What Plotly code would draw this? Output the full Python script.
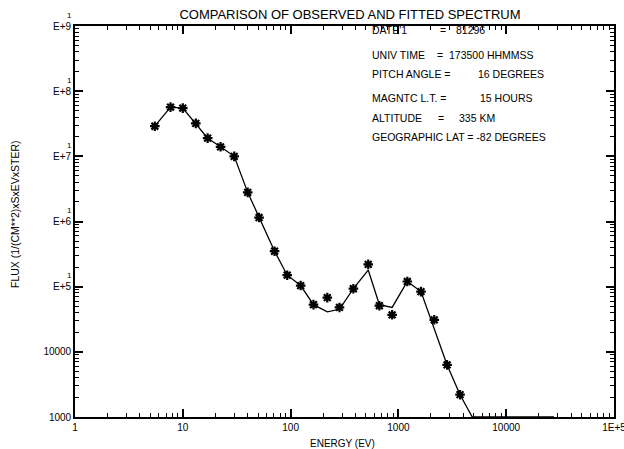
import plotly.graph_objects as go
import numpy as np

# Observed spectrum (asterisks)
energy_ev = [5.5, 7.7, 10, 13.2, 17, 22.4, 30, 40, 51, 71, 93, 124, 163, 219, 284,
             382, 525, 666, 875, 1210, 1620, 2150, 2830, 3730, 4840, 6670, 8800,
             11900, 16000, 21100, 27800]
flux_observed = [2.9e7, 5.7e7, 5.5e7, 3.2e7, 1.9e7, 1.4e7, 1.0e7, 2.8e6, 1.15e6, 3.5e5,
                 1.5e5, 1.04e5, 5.3e4, 6.8e4, 4.8e4, 9.3e4, 2.2e5, 5.1e4, 3.7e4, 1.2e5,
                 8.4e4, 3.1e4, 6.3e3, 2.2e3, 1000, 1000, 1000, 1000, 1000, 1000, 1000]
# Fitted spectrum (solid line)
flux_fitted = [2.9e7, 5.7e7, 5.5e7, 3.2e7, 1.9e7, 1.4e7, 1.0e7, 2.8e6, 1.15e6, 3.5e5,
               1.5e5, 1.04e5, 5.3e4, 4.1e4, 4.5e4, 9.3e4, 1.8e5, 5.3e4, 4.8e4, 1.2e5,
               8.4e4, 2.3e4, 6.3e3, 2.2e3, 1000, 1000, 1000, 1000, 1000, 1000, 1000]

x_tickvals = [1, 10, 100, 1000, 10000, 100000]
x_ticktext = ["1", "10", "100", "1000", "10000", "1E+5"]
y_tickvals = [1e3, 1e4, 1e5, 1e6, 1e7, 1e8, 1e9]
y_ticktext = ["1000", "10000", "E+5", "E+6", "E+7", "E+8", "E+9"]
y_exp_marks = [1e5, 1e6, 1e7, 1e8, 1e9]
minor_digits = [2, 3, 4, 5, 6, 7, 8, 9]
x_minor = [d * 10 ** e for e in range(0, 5) for d in minor_digits]
y_minor = [d * 10 ** e for e in range(3, 9) for d in minor_digits]

info_rows = [
    ("DATE'1", "=", "81296"),
    ("UNIV TIME", "=", "173500 HHMMSS"),
    ("PITCH ANGLE =", "", "16 DEGREES"),
    ("MAGNTC L.T. =", "", "15 HOURS"),
    ("ALTITUDE", "=", "335 KM"),
    ("GEOGRAPHIC LAT = -82 DEGREES", "", ""),
]

FONT = "Liberation Sans"
W, H = 624, 449
L, R, T, B = 75, 10, 26, 32
pw, ph = W - L - R, H - T - B

fig = go.Figure()
fig.add_trace(go.Scatter(x=energy_ev, y=flux_fitted, mode="lines",
                         line=dict(color="black", width=1.3), showlegend=False))
fig.add_trace(go.Scatter(x=energy_ev, y=flux_observed, mode="markers",
                         marker=dict(symbol="asterisk-open", size=8, color="black",
                                     line=dict(color="black", width=2.2)),
                         showlegend=False, cliponaxis=False))

axis_style = dict(type="log", tickmode="array", showgrid=False, zeroline=False,
                  showline=True, linecolor="black", linewidth=1.6, mirror="ticks",
                  ticks="inside", ticklen=8, tickwidth=1.5, tickcolor="black",
                  automargin=False, ticklabeloverflow="allow",
                  tickfont=dict(family=FONT, size=10, color="black"))

fig.update_layout(
    template="none",
    xaxis=dict(range=[0, 5], tickvals=x_tickvals, ticktext=x_ticktext,
               minor=dict(ticks="inside", ticklen=4, tickwidth=1.2, tickcolor="black",
                          tickvals=x_minor, showgrid=False),
               **axis_style),
    yaxis=dict(range=[3, 9], tickvals=y_tickvals, ticktext=y_ticktext,
               minor=dict(ticks="inside", ticklen=4, tickwidth=1.2, tickcolor="black",
                          tickvals=y_minor, showgrid=False),
               **axis_style),
)

annotations = []
annotations.append(dict(x=(342 - L) / pw, xref="paper", y=-(443 - (H - B)) / ph, yref="paper",
                        text="ENERGY (EV)", showarrow=False, xanchor="center", yanchor="middle",
                        font=dict(family=FONT, size=10, color="black")))
annotations.append(dict(x=(15 - L) / pw, xref="paper", y=(H - B - 214) / ph, yref="paper",
                        text="FLUX (1/(CM**2)xSxEVxSTER)", textangle=-90, showarrow=False,
                        xanchor="center", yanchor="middle",
                        font=dict(family=FONT, size=10.5, color="black")))
for v in y_exp_marks:
    annotations.append(dict(x=(69 - L) / pw, xref="paper", y=np.log10(v), yref="y",
                            text="1", showarrow=False, yshift=11, xanchor="center",
                            font=dict(family=FONT, size=8, color="black")))

row_y = [30, 55, 74, 98, 118, 137]
eq_x = [443, 440, 0, 0, 441, 0]
val_x = [454, 447, 476, 478, 457, 0]
info_font = dict(family=FONT, size=10.5, color="black")
for (lab, eq, val), py, ex, vx in zip(info_rows, row_y, eq_x, val_x):
    yy = (H - B - py) / ph
    annotations.append(dict(x=(370 - L) / pw, xref="paper", y=yy, yref="paper",
                            text=lab, showarrow=False, xanchor="left", yanchor="middle",
                            font=info_font))
    if eq:
        annotations.append(dict(x=(ex - L) / pw, xref="paper", y=yy, yref="paper",
                                text=eq, showarrow=False, xanchor="center", yanchor="middle",
                                font=info_font))
    if val:
        annotations.append(dict(x=(vx - L) / pw, xref="paper", y=yy, yref="paper",
                                text=val, showarrow=False, xanchor="left", yanchor="middle",
                                font=info_font))

fig.update_layout(
    width=W, height=H,
    margin=dict(l=L, r=R, t=T, b=B),
    paper_bgcolor="white", plot_bgcolor="white",
    title=dict(text="COMPARISON OF OBSERVED AND FITTED SPECTRUM",
               font=dict(family=FONT, size=13, color="black"),
               x=350 / W, xref="container", xanchor="center",
               y=1 - 14 / H, yref="container", yanchor="middle"),
    annotations=annotations,
)

fig.write_html("out.html")
